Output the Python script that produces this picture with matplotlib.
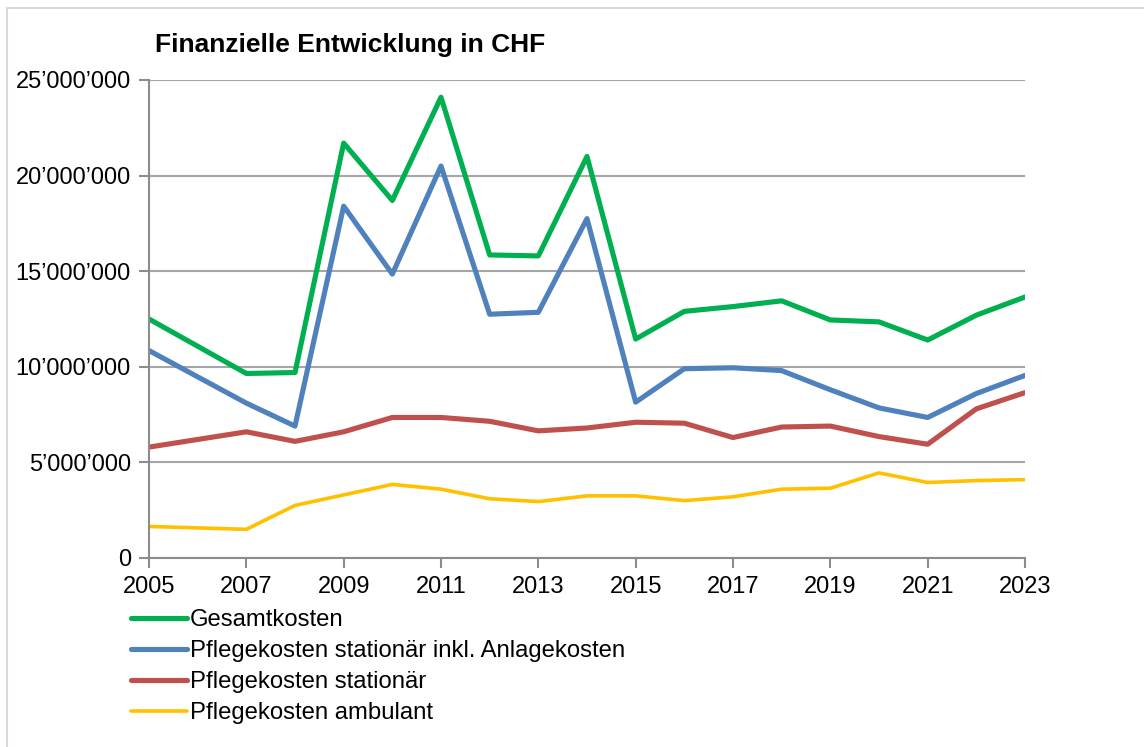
import matplotlib.pyplot as plt
import matplotlib.ticker as mticker
from matplotlib.patches import Rectangle

plt.rcParams['font.family'] = ['Liberation Sans', 'DejaVu Sans']

years = [2005, 2007, 2008, 2009, 2010, 2011, 2012, 2013, 2014, 2015,
         2016, 2017, 2018, 2019, 2020, 2021, 2022, 2023]

gesamt = [12.5, 9.65, 9.7, 21.7, 18.7, 24.1, 15.85, 15.8, 21.0, 11.45,
          12.9, 13.15, 13.45, 12.45, 12.35, 11.4, 12.7, 13.65]
stat_inkl = [10.85, 8.1, 6.9, 18.4, 14.85, 20.5, 12.75, 12.85, 17.75, 8.15,
             9.9, 9.95, 9.8, 8.8, 7.85, 7.35, 8.6, 9.55]
stationaer = [5.8, 6.6, 6.1, 6.6, 7.35, 7.35, 7.15, 6.65, 6.8, 7.1,
              7.05, 6.3, 6.85, 6.9, 6.35, 5.95, 7.8, 8.65]
ambulant = [1.65, 1.5, 2.75, 3.3, 3.85, 3.6, 3.1, 2.95, 3.25, 3.25,
            3.0, 3.2, 3.6, 3.65, 4.45, 3.95, 4.05, 4.1]

labels = ["Gesamtkosten",
          "Pflegekosten stationär inkl. Anlagekosten",
          "Pflegekosten stationär",
          "Pflegekosten ambulant"]

fig = plt.figure(figsize=(11.44, 7.47), dpi=100)
ax = fig.add_axes([149/1144, 1-558/747, (1025-149)/1144, (558-80)/747])

# light frame around the chart area
fig.patches.append(Rectangle((7/1144, -0.05), 1.1, 1-8/747+0.05,
                             transform=fig.transFigure, fill=False,
                             edgecolor='#d9d9d9', linewidth=1.5))

m = 1e6
style = dict(solid_capstyle='round', solid_joinstyle='round')
ax.plot(years, [v*m for v in gesamt], color='#00B050', lw=3.7, label=labels[0], **style)
ax.plot(years, [v*m for v in stat_inkl], color='#4F81BD', lw=3.7, label=labels[1], **style)
ax.plot(years, [v*m for v in stationaer], color='#C0504D', lw=3.7, label=labels[2], **style)
ax.plot(years, [v*m for v in ambulant], color='#FFC000', lw=2.6, label=labels[3], **style)

ax.set_xlim(2005, 2023)
ax.set_ylim(0, 25e6)
ax.set_xticks(range(2005, 2024, 2))
ax.set_yticks([0, 5e6, 10e6, 15e6, 20e6, 25e6])
ax.yaxis.set_major_formatter(mticker.FuncFormatter(
    lambda v, p: f"{int(v):,}".replace(",", "\u2019")))

ax.grid(axis='y', color='#a6a6a6', lw=1.5)
ax.set_axisbelow(True)
for s in ['top', 'right']:
    ax.spines[s].set_visible(False)
for s in ['left', 'bottom']:
    ax.spines[s].set_color('#8c8c8c')
    ax.spines[s].set_linewidth(1.5)
ax.tick_params(axis='both', length=7, width=1.5, color='#8c8c8c', labelsize=17)
ax.tick_params(axis='x', pad=6)
ax.tick_params(axis='y', pad=6)

fig.text(155/1144, 1-45/747, "Finanzielle Entwicklung in CHF",
         fontsize=19, fontweight='bold', va='center', ha='left')

fig.legend(loc='upper left', bbox_to_anchor=(131/1144, 1-609/747),
           frameon=False, fontsize=17.2, handlelength=2.35, handletextpad=0.13,
           labelspacing=0.38, borderaxespad=0, borderpad=0)

fig.savefig("out.png", dpi=100)
